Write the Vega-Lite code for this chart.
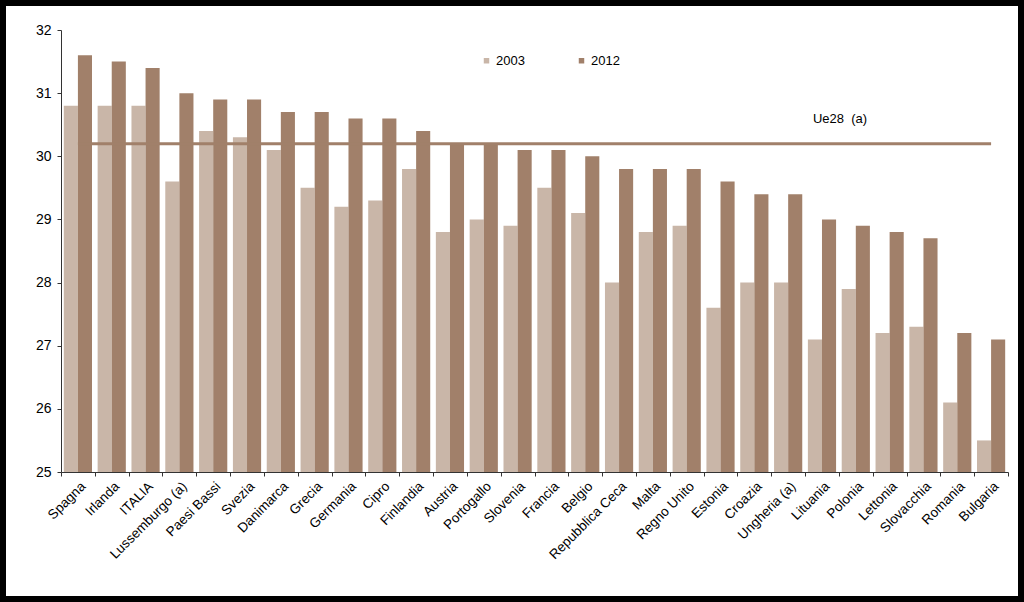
{
  "$schema": "https://vega.github.io/schema/vega-lite/v6.json",
  "usermeta": {"embedOptions": {"actions": false}},
  "width": 1024,
  "height": 602,
  "autosize": {"type": "none"},
  "padding": 0,
  "background": "white",
  "config": {
    "font": "Liberation Sans",
    "view": {"stroke": "black", "strokeWidth": 12, "fill": "white"},
    "axis": {"labelFont": "Liberation Sans", "labelColor": "black", "domainColor": "#333333", "tickColor": "#333333", "grid": false, "title": null}
  },
  "datasets": {
    "bars": [
      {"paese": "Spagna", "anno": "2003", "valore": 30.8},
      {"paese": "Spagna", "anno": "2012", "valore": 31.6},
      {"paese": "Irlanda", "anno": "2003", "valore": 30.8},
      {"paese": "Irlanda", "anno": "2012", "valore": 31.5},
      {"paese": "ITALIA", "anno": "2003", "valore": 30.8},
      {"paese": "ITALIA", "anno": "2012", "valore": 31.4},
      {"paese": "Lussemburgo (a)", "anno": "2003", "valore": 29.6},
      {"paese": "Lussemburgo (a)", "anno": "2012", "valore": 31.0},
      {"paese": "Paesi Bassi", "anno": "2003", "valore": 30.4},
      {"paese": "Paesi Bassi", "anno": "2012", "valore": 30.9},
      {"paese": "Svezia", "anno": "2003", "valore": 30.3},
      {"paese": "Svezia", "anno": "2012", "valore": 30.9},
      {"paese": "Danimarca", "anno": "2003", "valore": 30.1},
      {"paese": "Danimarca", "anno": "2012", "valore": 30.7},
      {"paese": "Grecia", "anno": "2003", "valore": 29.5},
      {"paese": "Grecia", "anno": "2012", "valore": 30.7},
      {"paese": "Germania", "anno": "2003", "valore": 29.2},
      {"paese": "Germania", "anno": "2012", "valore": 30.6},
      {"paese": "Cipro", "anno": "2003", "valore": 29.3},
      {"paese": "Cipro", "anno": "2012", "valore": 30.6},
      {"paese": "Finlandia", "anno": "2003", "valore": 29.8},
      {"paese": "Finlandia", "anno": "2012", "valore": 30.4},
      {"paese": "Austria", "anno": "2003", "valore": 28.8},
      {"paese": "Austria", "anno": "2012", "valore": 30.2},
      {"paese": "Portogallo", "anno": "2003", "valore": 29.0},
      {"paese": "Portogallo", "anno": "2012", "valore": 30.2},
      {"paese": "Slovenia", "anno": "2003", "valore": 28.9},
      {"paese": "Slovenia", "anno": "2012", "valore": 30.1},
      {"paese": "Francia", "anno": "2003", "valore": 29.5},
      {"paese": "Francia", "anno": "2012", "valore": 30.1},
      {"paese": "Belgio", "anno": "2003", "valore": 29.1},
      {"paese": "Belgio", "anno": "2012", "valore": 30.0},
      {"paese": "Repubblica Ceca", "anno": "2003", "valore": 28.0},
      {"paese": "Repubblica Ceca", "anno": "2012", "valore": 29.8},
      {"paese": "Malta", "anno": "2003", "valore": 28.8},
      {"paese": "Malta", "anno": "2012", "valore": 29.8},
      {"paese": "Regno Unito", "anno": "2003", "valore": 28.9},
      {"paese": "Regno Unito", "anno": "2012", "valore": 29.8},
      {"paese": "Estonia", "anno": "2003", "valore": 27.6},
      {"paese": "Estonia", "anno": "2012", "valore": 29.6},
      {"paese": "Croazia", "anno": "2003", "valore": 28.0},
      {"paese": "Croazia", "anno": "2012", "valore": 29.4},
      {"paese": "Ungheria (a)", "anno": "2003", "valore": 28.0},
      {"paese": "Ungheria (a)", "anno": "2012", "valore": 29.4},
      {"paese": "Lituania", "anno": "2003", "valore": 27.1},
      {"paese": "Lituania", "anno": "2012", "valore": 29.0},
      {"paese": "Polonia", "anno": "2003", "valore": 27.9},
      {"paese": "Polonia", "anno": "2012", "valore": 28.9},
      {"paese": "Lettonia", "anno": "2003", "valore": 27.2},
      {"paese": "Lettonia", "anno": "2012", "valore": 28.8},
      {"paese": "Slovacchia", "anno": "2003", "valore": 27.3},
      {"paese": "Slovacchia", "anno": "2012", "valore": 28.7},
      {"paese": "Romania", "anno": "2003", "valore": 26.1},
      {"paese": "Romania", "anno": "2012", "valore": 27.2},
      {"paese": "Bulgaria", "anno": "2003", "valore": 25.5},
      {"paese": "Bulgaria", "anno": "2012", "valore": 27.1}
    ],
    "ue": [
      {"paese": "Spagna", "valore": 30.2, "etichetta": ""},
      {"paese": "Lituania", "valore": 30.2, "etichetta": "Ue28\u00a0 (a)"},
      {"paese": "Bulgaria", "valore": 30.2, "etichetta": ""}
    ]
  },
  "layer": [
    {
      "data": {"name": "bars"},
      "mark": {"type": "bar"},
      "encoding": {
        "x": {
          "field": "paese", "type": "nominal", "sort": null,
          "scale": {"range": [61, 1008], "paddingInner": 0, "paddingOuter": 0},
          "axis": {"orient": "bottom", "offset": -130, "labelAngle": -45, "labelFontSize": 13.5, "tickSize": 4, "labelPadding": 3, "tickBand": "extent", "domainWidth": 1, "labelOverlap": false, "labelBound": false}
        },
        "xOffset": {"field": "anno", "type": "nominal", "scale": {"paddingOuter": 0.2, "paddingInner": 0}},
        "y": {
          "field": "valore", "type": "quantitative",
          "scale": {"domain": [25, 32], "range": [472, 30], "zero": false, "nice": false},
          "axis": {"orient": "left", "offset": -61, "values": [25, 26, 27, 28, 29, 30, 31, 32], "format": "d", "labelFontSize": 14, "tickSize": 4, "labelPadding": 6, "labelOverlap": false, "labelBound": false}
        },
        "y2": {"datum": 25},
        "color": {
          "field": "anno", "type": "nominal",
          "scale": {"domain": ["2003", "2012"], "range": ["#c9b6a8", "#a1806a"]},
          "legend": {"title": null, "orient": "none", "legendX": 480, "legendY": 54, "direction": "horizontal", "columns": 2, "columnPadding": 50, "symbolType": "square", "symbolSize": 30, "symbolStrokeWidth": 0, "labelFontSize": 13, "labelColor": "black", "labelOffset": 3, "labelFont": "Liberation Sans"}
        }
      }
    },
    {
      "data": {"name": "ue"},
      "mark": {"type": "line", "color": "#a1806a", "strokeWidth": 3},
      "encoding": {
        "x": {"field": "paese", "type": "nominal", "sort": null},
        "y": {"field": "valore", "type": "quantitative"}
      }
    },
    {
      "data": {"name": "ue"},
      "mark": {"type": "text", "fontSize": 13, "color": "black", "dx": 18, "dy": -25, "font": "Liberation Sans"},
      "encoding": {
        "x": {"field": "paese", "type": "nominal", "sort": null},
        "y": {"field": "valore", "type": "quantitative"},
        "text": {"field": "etichetta"}
      }
    }
  ]
}
